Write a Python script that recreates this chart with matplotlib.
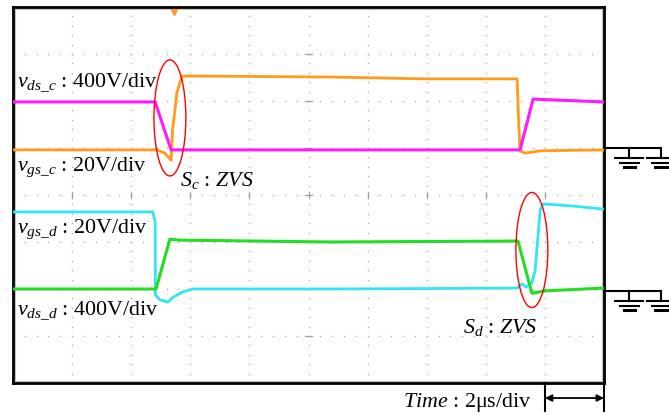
import numpy as np
import matplotlib
matplotlib.use("Agg")
import matplotlib.pyplot as plt
from matplotlib.patches import Ellipse, Rectangle

plt.rcParams['font.family'] = ['Liberation Serif', 'DejaVu Serif']
plt.rcParams['mathtext.fontset'] = 'custom'
plt.rcParams['mathtext.rm'] = 'Liberation Serif'
plt.rcParams['mathtext.it'] = 'Liberation Serif:italic'

# time in us (2us/div, 10 div), amplitude in divisions (0..8)
t_vds_c = [0, 4.81, 5.35, 17.16, 17.60, 20]
y_vds_c = [5.98, 5.98, 4.96, 4.96, 6.04, 5.98]

t_vgs_c = [0, 4.87, 5.14, 5.35, 5.40, 5.48, 5.55, 5.72, 6.33, 10.73, 14.04,
           17.06, 17.11, 17.16, 17.33, 17.84, 20]
y_vgs_c = [4.96, 4.96, 4.89, 4.74, 5.38, 5.81, 6.19, 6.53, 6.53, 6.51, 6.47,
           6.47, 5.60, 4.94, 4.89, 4.94, 4.96]

t_vgs_d = [0, 4.73, 4.81, 4.82, 4.97, 5.25, 5.38, 5.75, 6.09, 10.73, 17.06,
           17.22, 17.36, 17.56, 17.67, 17.77, 17.84, 17.94, 18.85, 20]
y_vgs_d = [3.64, 3.64, 3.43, 1.87, 1.77, 1.72, 1.81, 1.94, 2.00, 2.00, 2.02,
           2.11, 2.04, 2.13, 2.40, 3.15, 3.68, 3.81, 3.77, 3.70]

t_vds_d = [0, 4.84, 5.31, 5.65, 10.73, 17.09, 17.56, 18.0, 20]
y_vds_d = [2.00, 2.00, 3.06, 3.04, 3.00, 3.02, 1.91, 1.96, 2.02]

ground_levels = [5.0, 1.95]

fig = plt.figure(figsize=(6.69, 4.15), dpi=100)
ax = fig.add_axes([13 / 669, 1 - 383 / 415, 591 / 669, 376 / 415])
ax.set_xlim(0, 20)
ax.set_ylim(0, 8)
ax.set_xticks([])
ax.set_yticks([])
for s in ax.spines.values():
    s.set_linewidth(2)
    s.set_color('black')
ax.add_patch(Rectangle((0.003, 0.004), 0.994, 0.992, transform=ax.transAxes,
                       fill=False, edgecolor='#c0c0c0', lw=0.8))

# graticule dots
dot = dict(ls='none', marker='s', ms=1.0, color='#b0b0b0', mew=0)
for k in range(1, 10):
    yy = np.arange(1, 40) * 0.2
    ax.plot(np.full_like(yy, 2.0 * k), yy, **dot)
for k in range(1, 8):
    xx = np.arange(1, 50) * 0.4
    ax.plot(xx, np.full_like(xx, float(k)), **dot)
# short ticks where the major lines cross the centre lines
for x in range(2, 20, 2):
    ax.plot([x, x], [3.93, 4.07], color='#a0a0a0', lw=0.9)
for y in range(1, 8):
    ax.plot([9.88, 10.12], [y, y], color='#a0a0a0', lw=0.9)

# traces
ax.plot(t_vgs_c, y_vgs_c, color='#ff9a1a', lw=2.0, zorder=3)
ax.plot(t_vds_c, y_vds_c, color='#ff1aff', lw=2.2, zorder=4)
ax.plot(t_vgs_d, y_vgs_d, color='#33e4f2', lw=2.0, zorder=3)
ax.plot(t_vds_d, y_vds_d, color='#22dd22', lw=2.2, zorder=4)

# trigger marker
ax.plot([5.45], [7.9], marker='v', ms=4.5, color='#ff9a1a', clip_on=False)

# ZVS ellipses
ax.add_patch(Ellipse((5.31, 5.64), 1.08, 2.47, fill=False, edgecolor='red', lw=1.0, zorder=5))
ax.add_patch(Ellipse((17.56, 2.83), 1.08, 2.45, fill=False, edgecolor='red', lw=1.0, zorder=5))

fs = 15.8
ax.text(0.14, 6.30, r'$v_{ds\_c}$ : 400V/div', fontsize=fs, va='baseline')
ax.text(0.14, 4.51, r'$v_{gs\_c}$ : 20V/div', fontsize=fs, va='baseline')
ax.text(5.65, 4.19, r'$S_c$ : $ZVS$', fontsize=fs, va='baseline')
ax.text(0.14, 3.19, r'$v_{gs\_d}$ : 20V/div', fontsize=fs, va='baseline')
ax.text(0.14, 1.45, r'$v_{ds\_d}$ : 400V/div', fontsize=fs, va='baseline')
ax.text(15.23, 1.06, r'$S_d$ : $ZVS$', fontsize=fs, va='baseline')
ax.text(13.2, -0.51, r'$Time$ : 2μs/div', fontsize=fs, va='baseline', clip_on=False)

# time scale arrow
ax.plot([18.0, 18.0], [0, -0.6], color='black', lw=1.5, clip_on=False)
ax.plot([20.0, 20.0], [0, -0.6], color='black', lw=1.5, clip_on=False)
ax.annotate('', xy=(20.0, -0.32), xytext=(18.0, -0.32), annotation_clip=False,
            arrowprops=dict(arrowstyle='<|-|>', color='black', lw=1.3,
                            mutation_scale=10, shrinkA=0, shrinkB=0))

# ground symbols
for g in ground_levels:
    ax.plot([20, 21.93], [g, g], color='black', lw=1.5, clip_on=False)
    for cx in [20.85, 21.93]:
        ax.plot([cx, cx], [g, g - 0.213], color='black', lw=1.5, clip_on=False)
        ax.plot([cx - 0.47, cx + 0.47], [g - 0.213] * 2, color='black', lw=1.5, clip_on=False)
        ax.plot([cx - 0.32, cx + 0.32], [g - 0.31] * 2, color='black', lw=1.5, clip_on=False)
        ax.plot([cx - 0.19, cx + 0.19], [g - 0.404] * 2, color='black', lw=2.2, clip_on=False)

fig.savefig('out.png', dpi=100)
